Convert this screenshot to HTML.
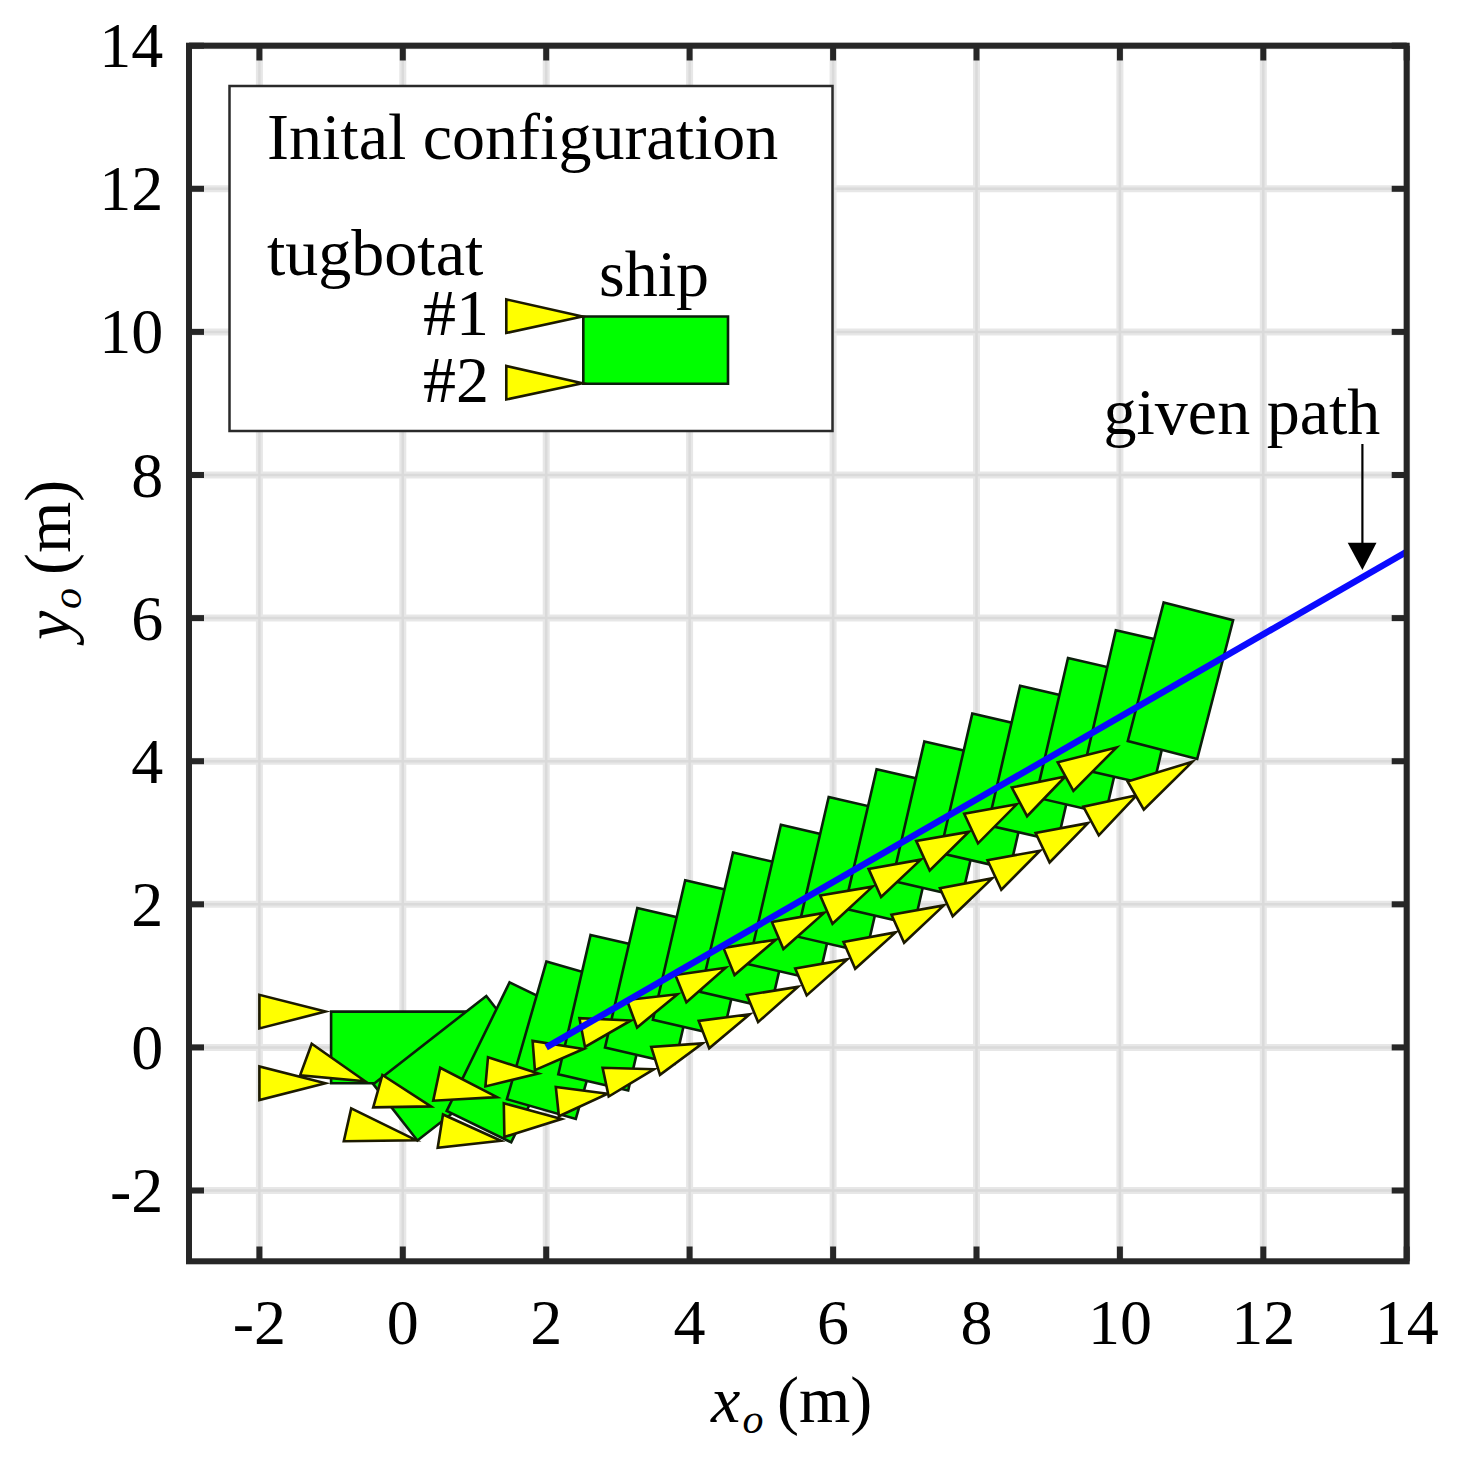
<!DOCTYPE html>
<html><head><meta charset="utf-8"><style>
html,body{margin:0;padding:0;background:#fff;}
svg{display:block;}
text{font-family:"Liberation Serif",serif;fill:#000;}
.s{fill:#00ff00;stroke:#0b1f0b;stroke-width:2.6;stroke-linejoin:miter;}
.t{fill:#ffff00;stroke:#1c1a00;stroke-width:2.6;stroke-linejoin:miter;stroke-miterlimit:12;}
</style></head><body>
<svg width="1460" height="1460" viewBox="0 0 1460 1460">
<rect x="0" y="0" width="1460" height="1460" fill="#fff"/>
<g stroke="#e7e7e7" stroke-width="7">
<line x1="259.4" y1="45.7" x2="259.4" y2="1261.3"/>
<line x1="402.8" y1="45.7" x2="402.8" y2="1261.3"/>
<line x1="546.2" y1="45.7" x2="546.2" y2="1261.3"/>
<line x1="689.6" y1="45.7" x2="689.6" y2="1261.3"/>
<line x1="833.1" y1="45.7" x2="833.1" y2="1261.3"/>
<line x1="976.5" y1="45.7" x2="976.5" y2="1261.3"/>
<line x1="1119.9" y1="45.7" x2="1119.9" y2="1261.3"/>
<line x1="1263.3" y1="45.7" x2="1263.3" y2="1261.3"/>
<line x1="1406.7" y1="45.7" x2="1406.7" y2="1261.3"/>
<line x1="189" y1="1190.5" x2="1406.7" y2="1190.5"/>
<line x1="189" y1="1047.4" x2="1406.7" y2="1047.4"/>
<line x1="189" y1="904.3" x2="1406.7" y2="904.3"/>
<line x1="189" y1="761.2" x2="1406.7" y2="761.2"/>
<line x1="189" y1="618.1" x2="1406.7" y2="618.1"/>
<line x1="189" y1="475.0" x2="1406.7" y2="475.0"/>
<line x1="189" y1="331.9" x2="1406.7" y2="331.9"/>
<line x1="189" y1="188.8" x2="1406.7" y2="188.8"/>
<line x1="189" y1="45.7" x2="1406.7" y2="45.7"/>
</g>
<g stroke="#dadada" stroke-width="2.5">
<line x1="259.4" y1="45.7" x2="259.4" y2="1261.3"/>
<line x1="402.8" y1="45.7" x2="402.8" y2="1261.3"/>
<line x1="546.2" y1="45.7" x2="546.2" y2="1261.3"/>
<line x1="689.6" y1="45.7" x2="689.6" y2="1261.3"/>
<line x1="833.1" y1="45.7" x2="833.1" y2="1261.3"/>
<line x1="976.5" y1="45.7" x2="976.5" y2="1261.3"/>
<line x1="1119.9" y1="45.7" x2="1119.9" y2="1261.3"/>
<line x1="1263.3" y1="45.7" x2="1263.3" y2="1261.3"/>
<line x1="1406.7" y1="45.7" x2="1406.7" y2="1261.3"/>
<line x1="189" y1="1190.5" x2="1406.7" y2="1190.5"/>
<line x1="189" y1="1047.4" x2="1406.7" y2="1047.4"/>
<line x1="189" y1="904.3" x2="1406.7" y2="904.3"/>
<line x1="189" y1="761.2" x2="1406.7" y2="761.2"/>
<line x1="189" y1="618.1" x2="1406.7" y2="618.1"/>
<line x1="189" y1="475.0" x2="1406.7" y2="475.0"/>
<line x1="189" y1="331.9" x2="1406.7" y2="331.9"/>
<line x1="189" y1="188.8" x2="1406.7" y2="188.8"/>
<line x1="189" y1="45.7" x2="1406.7" y2="45.7"/>
</g>
<g>
<polygon class="s" points="474.5,1011.6 474.5,1083.2 331.1,1083.2 331.1,1011.6"/>
<polygon class="t" points="325.4,1011.6 259.4,994.8 259.4,1028.4"/>
<polygon class="t" points="325.4,1083.2 259.4,1066.4 259.4,1100.0"/>
<polygon class="s" points="486.3,996.0 530.4,1052.4 417.4,1140.5 373.3,1084.1"/>
<polygon class="t" points="365.2,1081.2 311.7,1043.8 300.1,1075.4"/>
<polygon class="t" points="416.0,1140.2 351.2,1108.4 343.8,1141.2"/>
<polygon class="s" points="509.6,982.3 574.1,1013.7 511.2,1142.3 446.7,1110.9"/>
<polygon class="t" points="430.9,1106.4 382.4,1075.0 373.2,1107.4"/>
<polygon class="t" points="500.9,1140.7 443.0,1114.5 437.7,1147.7"/>
<polygon class="s" points="546.4,961.6 615.3,981.3 575.8,1118.9 506.9,1099.2"/>
<polygon class="t" points="497.0,1097.1 440.2,1067.8 433.2,1100.7"/>
<polygon class="t" points="561.5,1119.1 503.8,1103.3 504.4,1136.9"/>
<polygon class="s" points="590.6,934.9 660.5,951.0 628.2,1090.4 558.3,1074.3"/>
<polygon class="t" points="538.3,1073.6 488.0,1057.2 485.4,1086.4"/>
<polygon class="t" points="607.7,1093.7 555.8,1087.0 558.9,1116.2"/>
<polygon class="s" points="637.3,908.1 707.2,924.2 674.9,1063.7 605.0,1047.6"/>
<polygon class="t" points="583.5,1049.0 532.6,1040.9 534.9,1070.1"/>
<polygon class="t" points="654.1,1069.2 602.6,1067.8 608.7,1096.5"/>
<polygon class="s" points="685.2,880.3 755.0,896.4 722.8,1035.9 652.9,1019.8"/>
<polygon class="t" points="630.9,1020.5 579.4,1018.2 585.0,1047.0"/>
<polygon class="t" points="702.6,1043.4 651.2,1046.9 660.0,1074.9"/>
<polygon class="s" points="733.0,852.6 802.9,868.7 770.6,1008.1 700.7,992.0"/>
<polygon class="t" points="677.5,994.2 626.9,1000.0 637.1,1027.5"/>
<polygon class="t" points="749.8,1014.2 698.7,1020.9 709.2,1048.3"/>
<polygon class="s" points="780.9,824.8 850.7,840.9 818.5,980.3 748.6,964.2"/>
<polygon class="t" points="725.7,967.7 675.4,975.0 686.4,1002.2"/>
<polygon class="t" points="797.8,986.9 746.9,995.0 758.1,1022.1"/>
<polygon class="s" points="828.7,797.0 898.6,813.1 866.3,952.5 796.5,936.4"/>
<polygon class="t" points="775.8,939.7 723.5,947.9 734.5,975.1"/>
<polygon class="t" points="847.3,959.4 795.2,968.4 806.7,995.4"/>
<polygon class="s" points="876.6,769.2 946.4,785.3 914.2,924.7 844.3,908.6"/>
<polygon class="t" points="824.1,912.9 771.9,922.0 783.4,949.0"/>
<polygon class="t" points="895.6,932.4 843.5,941.9 855.2,968.8"/>
<polygon class="s" points="924.4,741.4 994.3,757.5 962.0,896.9 892.2,880.8"/>
<polygon class="t" points="872.6,886.6 820.2,895.4 832.5,923.7"/>
<polygon class="t" points="943.8,905.4 891.5,914.7 904.1,942.8"/>
<polygon class="s" points="972.3,713.6 1042.2,729.7 1009.9,869.1 940.0,853.0"/>
<polygon class="t" points="920.8,859.6 868.6,868.9 881.1,897.0"/>
<polygon class="t" points="992.1,878.4 939.9,888.2 952.7,916.2"/>
<polygon class="s" points="1020.1,685.8 1090.0,701.9 1057.7,841.3 987.9,825.2"/>
<polygon class="t" points="968.7,831.9 916.2,840.9 929.7,870.5"/>
<polygon class="t" points="1040.0,850.7 987.5,860.2 1001.3,889.7"/>
<polygon class="s" points="1068.0,658.0 1137.9,674.1 1105.6,813.5 1035.7,797.4"/>
<polygon class="t" points="1016.7,804.3 964.2,813.8 978.0,843.3"/>
<polygon class="t" points="1088.0,823.1 1035.6,833.0 1049.6,862.4"/>
<polygon class="s" points="1115.8,630.2 1185.7,646.3 1153.5,785.7 1083.6,769.7"/>
<polygon class="t" points="1065.3,776.5 1011.8,787.5 1027.1,816.2"/>
<polygon class="t" points="1136.8,795.2 1083.3,806.7 1098.8,835.3"/>
<polygon class="s" points="1163.7,602.4 1233.1,620.3 1197.2,758.9 1127.8,741.0"/>
<polygon class="t" points="1116.6,747.4 1057.7,762.3 1073.4,790.8"/>
<polygon class="t" points="1192.3,761.8 1127.6,781.5 1143.8,809.7"/>
</g>
<line x1="546.2" y1="1047.4" x2="1406.7" y2="551.7" stroke="#0a0aff" stroke-width="6.5"/>
<g stroke="#262626" stroke-width="6">
<line x1="259.4" y1="1261.3" x2="259.4" y2="1246.5"/>
<line x1="259.4" y1="45.7" x2="259.4" y2="60.5"/>
<line x1="402.8" y1="1261.3" x2="402.8" y2="1246.5"/>
<line x1="402.8" y1="45.7" x2="402.8" y2="60.5"/>
<line x1="546.2" y1="1261.3" x2="546.2" y2="1246.5"/>
<line x1="546.2" y1="45.7" x2="546.2" y2="60.5"/>
<line x1="689.6" y1="1261.3" x2="689.6" y2="1246.5"/>
<line x1="689.6" y1="45.7" x2="689.6" y2="60.5"/>
<line x1="833.1" y1="1261.3" x2="833.1" y2="1246.5"/>
<line x1="833.1" y1="45.7" x2="833.1" y2="60.5"/>
<line x1="976.5" y1="1261.3" x2="976.5" y2="1246.5"/>
<line x1="976.5" y1="45.7" x2="976.5" y2="60.5"/>
<line x1="1119.9" y1="1261.3" x2="1119.9" y2="1246.5"/>
<line x1="1119.9" y1="45.7" x2="1119.9" y2="60.5"/>
<line x1="1263.3" y1="1261.3" x2="1263.3" y2="1246.5"/>
<line x1="1263.3" y1="45.7" x2="1263.3" y2="60.5"/>
<line x1="1406.7" y1="1261.3" x2="1406.7" y2="1246.5"/>
<line x1="1406.7" y1="45.7" x2="1406.7" y2="60.5"/>
<line x1="189" y1="1190.5" x2="204" y2="1190.5"/>
<line x1="1406.7" y1="1190.5" x2="1391.7" y2="1190.5"/>
<line x1="189" y1="1047.4" x2="204" y2="1047.4"/>
<line x1="1406.7" y1="1047.4" x2="1391.7" y2="1047.4"/>
<line x1="189" y1="904.3" x2="204" y2="904.3"/>
<line x1="1406.7" y1="904.3" x2="1391.7" y2="904.3"/>
<line x1="189" y1="761.2" x2="204" y2="761.2"/>
<line x1="1406.7" y1="761.2" x2="1391.7" y2="761.2"/>
<line x1="189" y1="618.1" x2="204" y2="618.1"/>
<line x1="1406.7" y1="618.1" x2="1391.7" y2="618.1"/>
<line x1="189" y1="475.0" x2="204" y2="475.0"/>
<line x1="1406.7" y1="475.0" x2="1391.7" y2="475.0"/>
<line x1="189" y1="331.9" x2="204" y2="331.9"/>
<line x1="1406.7" y1="331.9" x2="1391.7" y2="331.9"/>
<line x1="189" y1="188.8" x2="204" y2="188.8"/>
<line x1="1406.7" y1="188.8" x2="1391.7" y2="188.8"/>
<line x1="189" y1="45.7" x2="204" y2="45.7"/>
<line x1="1406.7" y1="45.7" x2="1391.7" y2="45.7"/>
</g>
<rect x="189" y="45.7" width="1217.7" height="1215.6" fill="none" stroke="#262626" stroke-width="6"/>
<g font-size="64" style="fill:#262626">
<text x="259.4" y="1344" text-anchor="middle">-2</text>
<text x="402.8" y="1344" text-anchor="middle">0</text>
<text x="546.2" y="1344" text-anchor="middle">2</text>
<text x="689.6" y="1344" text-anchor="middle">4</text>
<text x="833.1" y="1344" text-anchor="middle">6</text>
<text x="976.5" y="1344" text-anchor="middle">8</text>
<text x="1119.9" y="1344" text-anchor="middle">10</text>
<text x="1263.3" y="1344" text-anchor="middle">12</text>
<text x="1406.7" y="1344" text-anchor="middle">14</text>
<text x="163.3" y="1212.0" text-anchor="end">-2</text>
<text x="163.3" y="1068.9" text-anchor="end">0</text>
<text x="163.3" y="925.8" text-anchor="end">2</text>
<text x="163.3" y="782.7" text-anchor="end">4</text>
<text x="163.3" y="639.6" text-anchor="end">6</text>
<text x="163.3" y="496.5" text-anchor="end">8</text>
<text x="163.3" y="353.4" text-anchor="end">10</text>
<text x="163.3" y="210.3" text-anchor="end">12</text>
<text x="163.3" y="67.2" text-anchor="end">14</text>
</g>
<rect x="229.5" y="86" width="603" height="345" fill="#fff" stroke="#2a2a2a" stroke-width="2.5"/>
<g font-size="66">
<text x="267" y="158.5">Inital configuration</text>
<text x="267" y="275">tugbotat</text>
<text x="599" y="296">ship</text>
<text x="423" y="335">#1</text>
<text x="423" y="402">#2</text>
</g>
<polygon class="s" points="583.3,316.5 728,316.5 728,383.8 583.3,383.8"/>
<polygon class="t" points="582.5,316.5 506.3,299.4 506.3,333"/>
<polygon class="t" points="582.5,383.3 506.3,366 506.3,399.5"/>
<text x="1103.5" y="434" font-size="66">given path</text>
<line x1="1362.4" y1="444" x2="1362.4" y2="545" stroke="#000" stroke-width="2.2"/>
<polygon points="1347.7,542.7 1376.5,542.7 1362.4,570" fill="#000"/>
<text x="711" y="1421.5" font-size="66" font-style="italic">x</text>
<text x="742.5" y="1433" font-size="42" font-style="italic">o</text>
<text x="777" y="1421.5" font-size="66">(m)</text>
<g transform="translate(69.7,640) rotate(-90)">
<text x="0" y="0" font-size="66" font-style="italic">y</text>
<text x="31" y="11" font-size="42" font-style="italic">o</text>
<text x="65" y="0" font-size="66">(m)</text>
</g>
</svg>
</body></html>
